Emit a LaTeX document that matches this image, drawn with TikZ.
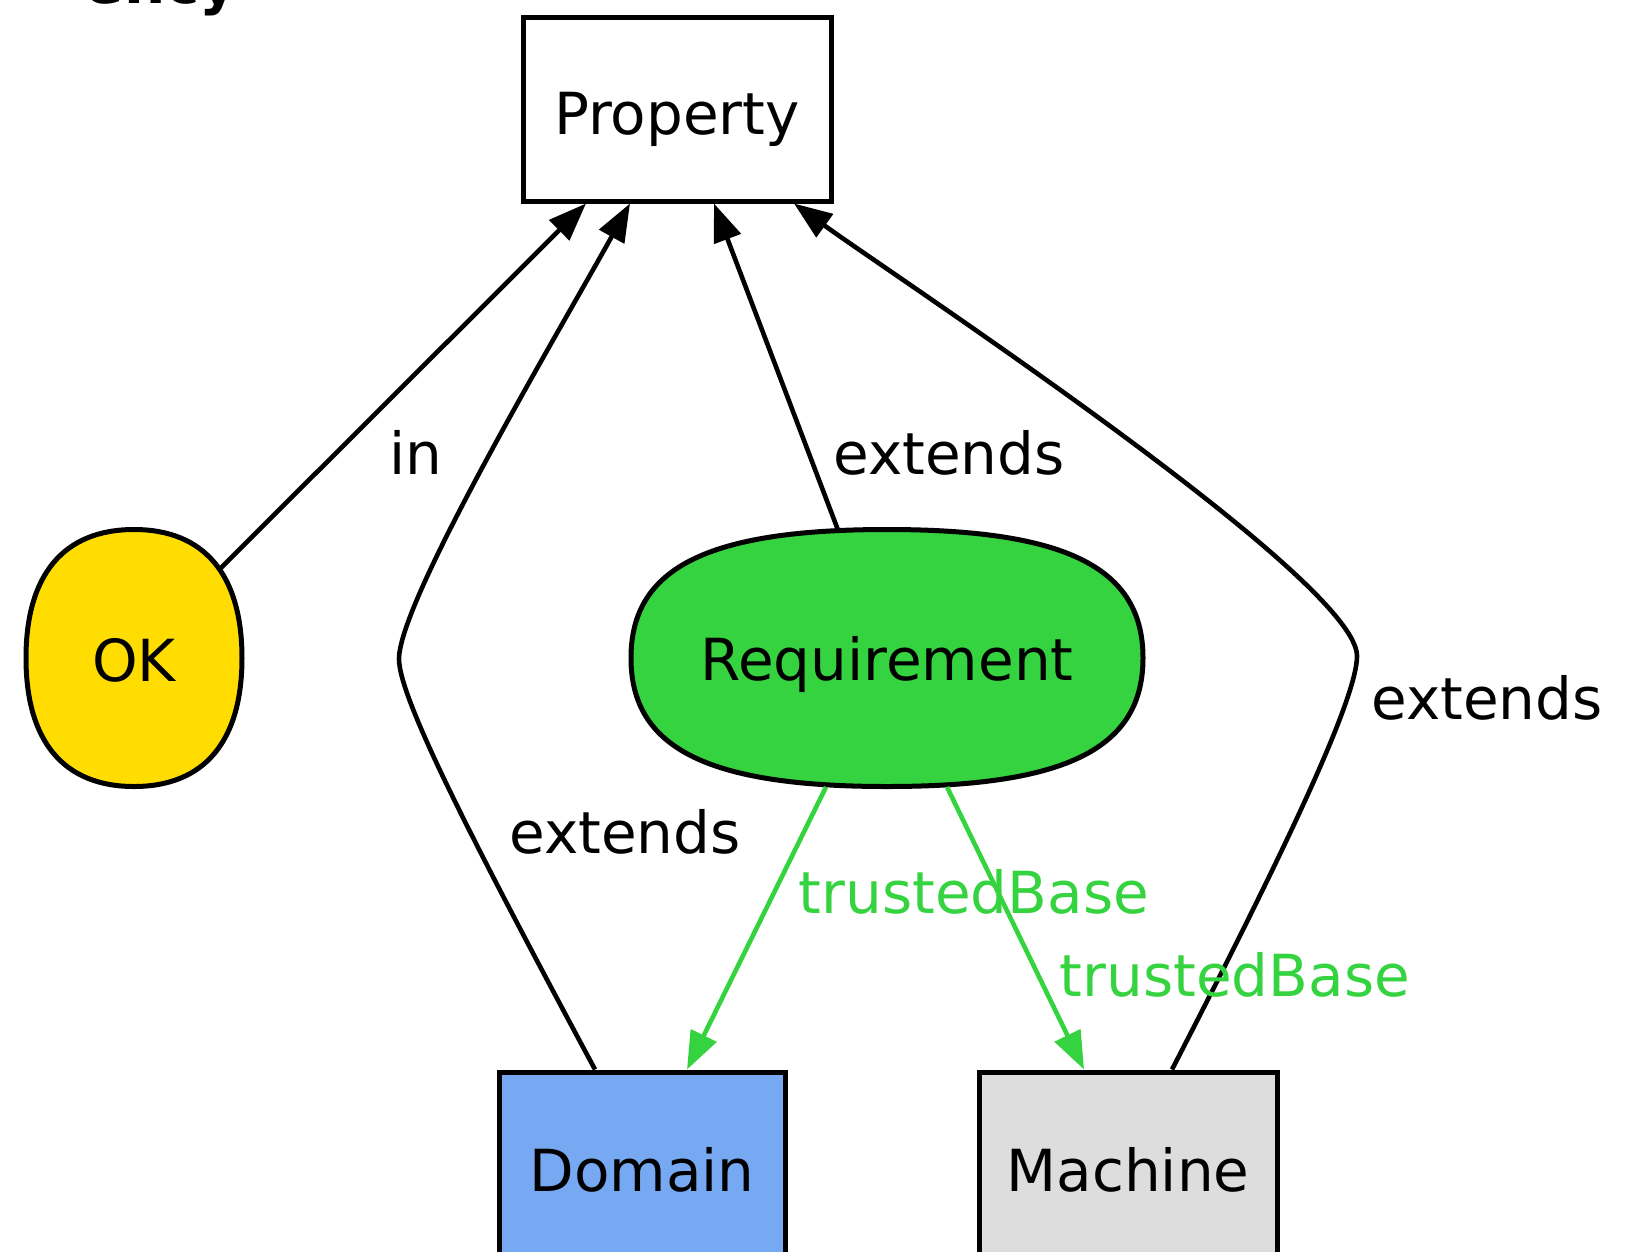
\documentclass[tikz,border=0pt]{standalone}
\usepackage{fontspec}
\setmainfont{DejaVu Sans}
\usetikzlibrary{arrows.meta,calc}
\definecolor{okyellow}{HTML}{FFDD00}
\definecolor{reqgreen}{HTML}{35D33F}
\definecolor{domblue}{HTML}{77A9F2}
\definecolor{machgray}{HTML}{DDDDDD}
\begin{document}
\begin{tikzpicture}[x=1pt,y=-1pt,
  lbl/.style={font=\fontsize{58}{70}\selectfont, inner sep=0pt},
  box/.style={draw, line width=5pt, inner sep=0pt, font=\fontsize{58}{70}\selectfont},
  blobline/.style={draw, line width=5pt},
  edge/.style={line width=4.6pt, -{Triangle[length=38pt,width=28pt]}},
  tb/.style={line width=4.6pt, draw=reqgreen, -{Triangle[length=38pt,width=28pt]}},
]
\useasboundingbox (0,0) rectangle (1627,1251);

% title fragment, cut by the top edge
\node[lbl, font=\bfseries\fontsize{58}{70}\selectfont, anchor=base east] (title) at (238,3) {ency};

% boxes
\node[box, fill=white, minimum width=308pt, minimum height=184pt] (prop) at (677,109) {};
\node[lbl] (proptext) at (677,119) {Property};
\node[box, fill=domblue, minimum width=286pt, minimum height=196pt] (dom) at (642,1170) {Domain};
\node[box, fill=machgray, minimum width=298pt, minimum height=196pt] (mach) at (1128,1170) {Machine};

% rounded blobs
\begin{scope}[shift={(134,658)}]
\path[blobline, fill=okyellow] (108,0) .. controls (108,83.5) and (70.2,128.5) .. (0,128.5)
  .. controls (-70.2,128.5) and (-108,83.5) .. (-108,0)
  .. controls (-108,-83.5) and (-70.2,-128.5) .. (0,-128.5)
  .. controls (70.2,-128.5) and (108,-83.5) .. (108,0) -- cycle;
\end{scope}
\begin{scope}[shift={(887,658)}]
\path[blobline, fill=reqgreen] (256,0) .. controls (256,90) and (180,128.5) .. (0,128.5)
  .. controls (-180,128.5) and (-256,90) .. (-256,0)
  .. controls (-256,-90) and (-180,-128.5) .. (0,-128.5)
  .. controls (180,-128.5) and (256,-90) .. (256,0) -- cycle;
\end{scope}
\node[lbl, minimum width=216pt, minimum height=257pt] (ok) at (134,660) {OK};
\node[lbl, minimum width=512pt, minimum height=257pt] (req) at (887,664) {Requirement};

% edges
\draw[edge] ($(ok.center)+(85.5,-90.7)$) -- ($(prop.south)+(-91,0)$);
\draw[edge] ($(dom.north)+(-47,0)$) .. controls (480,855) and (399,700) .. (399,659)
  .. controls (399,600) and (560,330) .. ($(prop.south)+(-47,0)$);
\draw[edge] ($(req.center)+(-49,-134)$) -- ($(prop.south)+(37,0)$);
\draw[edge] ($(mach.north)+(44,0)$) .. controls (1280,860) and (1357,700) .. (1357,656)
  .. controls (1357,580) and (900,280) .. ($(prop.south)+(117,0)$);
\draw[tb] ($(req.center)+(-61,123)$) -- ($(dom.north)+(45,0)$);
\draw[tb] ($(req.center)+(60,123)$) -- ($(mach.north)+(-44,0)$);

% labels
\node[lbl, anchor=base] (lin) at (416,474) {in};
\node[lbl, anchor=base] (lext1) at (949,474) {extends};
\node[lbl, anchor=base] (lext2) at (1487,719) {extends};
\node[lbl, anchor=base] (lext3) at (625,853) {extends};
\node[lbl, anchor=base, text=reqgreen] (ltb1) at (974,913) {trustedBase};
\node[lbl, anchor=base, text=reqgreen] (ltb2) at (1235,996) {trustedBase};
\end{tikzpicture}
\end{document}
